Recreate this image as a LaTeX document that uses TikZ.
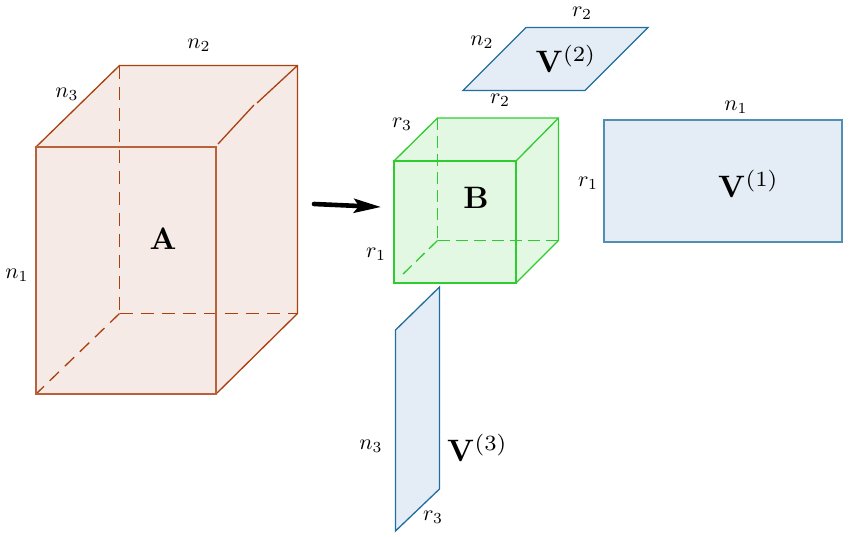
\documentclass[tikz,border=0pt]{standalone}
\usetikzlibrary{arrows.meta}
\definecolor{rust}{HTML}{A8400F}
\definecolor{rustfill}{HTML}{F5EAE5}
\definecolor{leaf}{HTML}{2FCC2F}
\definecolor{leaffill}{HTML}{E3F8E3}
\definecolor{steel}{HTML}{1F6E9E}
\definecolor{steelfill}{HTML}{E4EDF5}
\tikzset{
  dim/.style={inner sep=0pt,scale=2.2},
  title/.style={inner sep=0pt,scale=3.1},
  edgeA/.style={draw=rust,line width=1.3pt},
  frontA/.style={draw=rust!80!rustfill,line width=1.3pt},
  edgeB/.style={draw=leaf,line width=1.3pt},
  hiddenA/.style={draw=rust,line width=1.3pt,dash pattern=on 13pt off 8pt},
  hiddenB/.style={draw=leaf,line width=1.3pt,dash pattern=on 12pt off 6pt},
  factor/.style={draw=steel,fill=steelfill,line width=1.3pt,line join=miter},
  widefactor/.style={draw=steel!78!white,fill=steelfill,line width=1.3pt}
}
\begin{document}
\begin{tikzpicture}[x=1pt,y=-1pt]
\useasboundingbox (0,0) rectangle (850,536);

% core tensor A as an open box
\coordinate (a1) at (36,147);
\coordinate (a2) at (216,147);
\coordinate (a3) at (216,394);
\coordinate (a4) at (36,394);
\coordinate (a5) at (119.5,65.5);
\coordinate (a6) at (297.5,65.5);
\coordinate (a7) at (297.5,313.5);
\coordinate (a8) at (119.5,313.5);
\coordinate (a9) at (218,144);
\coordinate (a10) at (254,105);
\coordinate (a11) at (257,103);
\fill[rustfill] (a1) -- (a5) -- (a6) -- (a7) -- (a3) -- (a4) -- cycle;
\draw[hiddenA] (a5) -- (a8);
\draw[hiddenA] (a8) -- (a7);
\draw[hiddenA] (a8) -- (a4);
\draw[edgeA] (a1) -- (a5) -- (a6) -- (a7) -- (a3);
\draw[edgeA] (a9) -- (a10);
\draw[edgeA] (a11) -- (a6);
\draw[frontA] (a1) rectangle (a3);

% core tensor B as an open box
\coordinate (b1) at (394,161);
\coordinate (b2) at (516,161);
\coordinate (b3) at (516,283);
\coordinate (b4) at (394,283);
\coordinate (b5) at (437.5,118);
\coordinate (b6) at (558.5,118);
\coordinate (b7) at (558.5,240.5);
\coordinate (b8) at (437.5,240.5);
\coordinate (b9) at (400,277);
\fill[leaffill] (b1) -- (b5) -- (b6) -- (b7) -- (b3) -- (b4) -- cycle;
\draw[hiddenB] (b5) -- (b8);
\draw[hiddenB] (b8) -- (b7);
\draw[hiddenB] (b8) -- (b9);
\draw[edgeB] (b1) -- (b5) -- (b6) -- (b7) -- (b3);
\draw[edgeB] (b2) -- (b6);
\draw[edgeB] (b1) rectangle (b3);

% factor matrices
\coordinate (u1) at (604,120);
\coordinate (u2) at (842,242);
\draw[widefactor] (u1) rectangle (u2);
\draw[factor] (463,90.5) -- (526,27.5) -- (648,27.5) -- (585,90.5) -- cycle;
\draw[factor] (395.5,330) -- (439.5,287) -- (439.5,489) -- (395.5,531) -- cycle;

% decomposition arrow
\coordinate (from) at (314,204);
\coordinate (to) at (381,207);
\draw[line width=4.6pt,line cap=round,-{Stealth[length=27pt,width=14pt,inset=5pt]}] (from) -- (to);

% labels
\node[title] (la) at (163,239) {$\mathbf{A}$};
\node[title] (lb) at (476,198) {$\mathbf{B}$};
\node[title] (lv1) at (748.5,184) {$\mathbf{V}^{(1)}$};
\node[title] (lv2) at (566,59) {$\mathbf{V}^{(2)}$};
\node[title] (lv3) at (477.5,448) {$\mathbf{V}^{(3)}$};
\node[dim] (n1a) at (17,275) {$n_1$};
\node[dim] (n2a) at (199,45) {$n_2$};
\node[dim] (n3a) at (67,94) {$n_3$};
\node[dim] (r1b) at (376,254) {$r_1$};
\node[dim] (r2b) at (500,100) {$r_2$};
\node[dim] (r3b) at (402,124) {$r_3$};
\node[dim] (r1v) at (588,183) {$r_1$};
\node[dim] (n1v) at (736,107) {$n_1$};
\node[dim] (n2v) at (482,42) {$n_2$};
\node[dim] (r2v) at (582,13) {$r_2$};
\node[dim] (n3v) at (371,446) {$n_3$};
\node[dim] (r3v) at (433,517) {$r_3$};
\end{tikzpicture}
\end{document}
